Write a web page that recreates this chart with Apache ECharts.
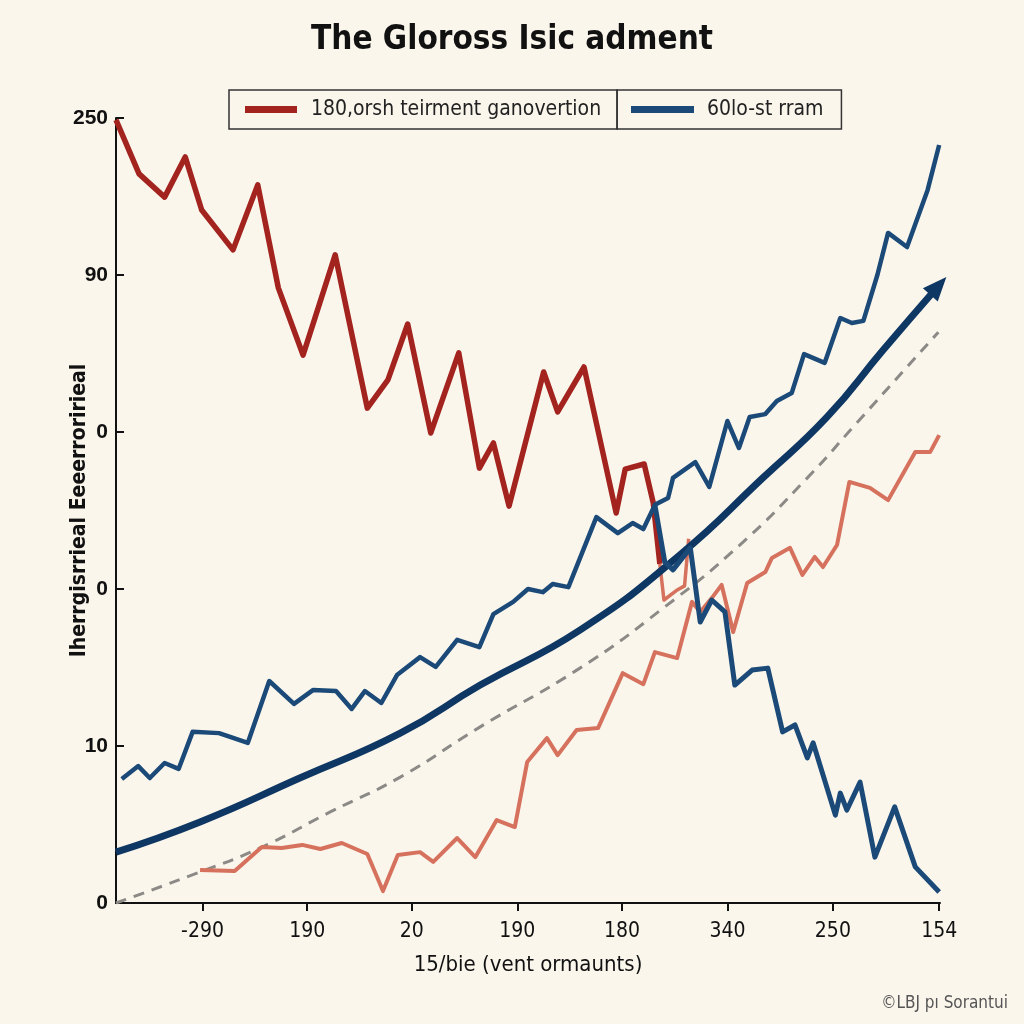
<!DOCTYPE html>
<html>
<head>
<meta charset="utf-8">
<script src="https://cdn.jsdelivr.net/npm/echarts@6/dist/echarts.min.js"></script>
<style>
html,body{margin:0;padding:0;background:#faf6ec;}
#chart{width:1024px;height:1024px;}
</style>
</head>
<body>
<div id="chart"></div>
<script>
// ---- text ----
const titleText = 'The Gloross Isic adment';
const redName = '180,orsh teirment ganovertion';
const blueName = '60lo-st rram';
const yAxisName = 'Iherrgisrrieal Eeeerroririeal';
const xAxisName = '15/bie (vent ormaunts)';
const creditText = '\u00a9LBJ p\u0131 Sorantui';

// ---- ticks ----
const yTickLabels = ['0', '10', '0', '0', '90', '250'];
const xTickPos = [10.5, 23.2, 35.9, 48.7, 61.4, 74.2, 87.0, 99.9];
const xTickLabels = ['-290', '190', '20', '190', '180', '340', '250', '154'];

// ---- series values [x, y] ----
const redLine = [[0,249.4],[2.8,232.2],[5.9,224.8],[8.4,237.6],[10.4,220.7],[14.2,208.0],[17.2,228.7],[19.7,195.9],[22.7,174.5],[26.6,206.4],[30.5,157.6],[33.0,166.6],[35.4,184.4],[38.2,149.7],[41.6,175.2],[44.1,138.5],[45.8,146.5],[47.7,126.4],[51.9,169.1],[53.6,156.4],[56.8,170.7],[60.7,124.2],[61.8,138.2],[64.1,139.8],[65.2,127.4],[66.0,108.0]];

const redTail = [[66.0,108.0],[66.5,96.5],[68.0,99.5],[69.0,101.0],[69.5,116.0]];

const blueRise = [[0.7,39.5],[2.7,43.6],[4.1,39.8],[5.9,44.6],[7.6,42.7],[9.3,54.5],[12.5,54.1],[16.0,51.0],[18.6,70.7],[21.6,63.4],[23.9,67.8],[26.7,67.5],[28.6,61.8],[30.2,67.5],[32.2,63.7],[34.1,72.6],[36.9,78.3],[38.8,75.2],[41.4,83.8],[44.1,81.5],[45.8,92.0],[48.2,95.9],[50.0,100.0],[51.8,99.0],[53.0,101.6],[54.9,100.6],[58.3,122.9],[60.9,117.8],[62.7,121.0],[64.0,119.1],[65.4,126.8],[67.0,129.0],[67.6,135.4],[70.3,140.4],[72.0,132.5],[74.2,153.5],[75.6,144.9],[76.9,154.8],[78.8,155.7],[80.2,159.9],[82.0,162.4],[83.5,174.8],[86.0,172.0],[87.9,186.3],[89.3,184.7],[90.7,185.4],[92.4,200.0],[93.7,213.4],[96.0,208.9],[98.5,227.1],[99.9,241.4]];

const blueFall = [[65.4,126.8],[66.6,108.6],[67.6,106.1],[69.7,113.1],[70.9,89.5],[72.3,96.5],[73.9,92.7],[75.1,69.4],[77.2,74.2],[79.1,74.8],[80.9,54.5],[82.4,56.7],[83.9,46.2],[84.6,51.0],[87.3,28.0],[87.9,35.0],[88.7,29.6],[90.3,38.5],[92.1,14.6],[94.5,30.6],[97.0,11.5],[99.9,3.5]];

const salmonLine = [[10.2,10.5],[14.4,10.2],[17.7,17.8],[20.1,17.5],[22.6,18.5],[24.8,17.2],[27.4,19.1],[30.5,15.6],[32.4,3.8],[34.2,15.3],[36.9,16.2],[38.5,13.1],[41.4,20.7],[43.6,14.6],[46.2,26.4],[48.4,24.2],[49.9,44.9],[52.3,52.5],[53.6,47.1],[55.9,55.1],[58.5,55.7],[61.5,73.2],[64.0,69.7],[65.4,79.9],[68.1,78.0],[69.9,95.9],[70.9,92.7],[72.3,97.1],[73.5,101.3],[74.9,86.3],[76.6,101.9],[78.8,105.4],[79.6,109.9],[81.8,113.1],[83.3,104.5],[84.8,110.2],[85.8,107.0],[87.5,114.0],[89.0,134.1],[91.5,132.2],[93.7,128.3],[97.0,143.6],[98.8,143.6],[99.9,149.0]];

const trendCurve = [[0,16.2],[10.2,25.8],[22.3,39.8],[34.5,54.1],[44.2,69.4],[56.3,86.9],[68.4,110.8],[78.5,135.4],[86.3,154.8],[93.1,176.1],[99.8,196.5]];

const dashedCurve = [[0,0],[10.2,9.9],[17.7,17.8],[26.0,29.0],[34.5,40.1],[44.2,56.1],[56.3,74.8],[66.4,93.9],[75.7,114.0],[83.9,135.4],[89.9,152.9],[99.8,181.8]];

// ---- styling ----
const narrow = "'Liberation Sans Narrow','DejaVu Sans Condensed','Roboto Condensed',sans-serif";
const RED = '#a3231f';
const SALMON = '#d6715d';
const BLUE = '#1c4a78';
const NAVY = '#0f3763';
const GRAY = '#8c8a86';

const trendData = trendCurve.map((p, i) => i === trendCurve.length - 1
  ? { value: p, symbol: 'triangle', symbolSize: [20, 24], symbolRotate: -42, itemStyle: { color: NAVY } }
  : p);

const chart = echarts.init(document.getElementById('chart'), null, { renderer: 'canvas' });
chart.setOption({
  backgroundColor: '#faf6ec',
  animation: false,
  title: [
    { text: titleText, left: 'center', top: 19,
      textStyle: { fontFamily: narrow, fontWeight: 'bold', fontSize: 33, color: '#111' } },
    { text: creditText, right: 11, bottom: 7,
      textStyle: { fontFamily: narrow, fontWeight: 'normal', fontSize: 17, color: '#555' } }
  ],
  legend: [
    { data: [redName], left: 229, top: 90, orient: 'horizontal',
      padding: [9, 16, 9, 16], itemWidth: 52, itemHeight: 7, icon: 'rect',
      borderColor: '#333', borderWidth: 1.5,
      textStyle: { fontFamily: narrow, fontSize: 21, color: '#222', padding: [0, 0, 0, 9] } },
    { data: [blueName], left: 617, top: 90, orient: 'horizontal',
      padding: [9, 18, 9, 14], itemWidth: 63, itemHeight: 7, icon: 'rect',
      borderColor: '#333', borderWidth: 1.5,
      textStyle: { fontFamily: narrow, fontSize: 21, color: '#222', padding: [0, 0, 0, 8] } }
  ],
  grid: { left: 116, right: 84, top: 118, bottom: 121, containLabel: false },
  xAxis: {
    type: 'value', min: 0, max: 100,
    name: xAxisName, nameLocation: 'middle', nameGap: 51, nameMoveOverlap: false,
    nameTextStyle: { fontFamily: narrow, fontSize: 22, color: '#111' },
    axisLine: { show: true, lineStyle: { color: '#111', width: 2 } },
    axisTick: { show: true, customValues: xTickPos, length: 8, inside: false, lineStyle: { color: '#111', width: 2 } },
    axisLabel: { customValues: xTickPos, margin: 18, fontFamily: narrow, fontSize: 21, color: '#111',
      formatter: (v) => { const i = xTickPos.indexOf(v); return i >= 0 ? xTickLabels[i] : ''; } },
    splitLine: { show: false }
  },
  yAxis: {
    type: 'value', min: 0, max: 250, interval: 50,
    name: yAxisName, nameLocation: 'middle', nameGap: 26, nameMoveOverlap: false,
    nameTextStyle: { fontFamily: narrow, fontWeight: 'bold', fontSize: 21, color: '#111' },
    axisLine: { show: true, lineStyle: { color: '#111', width: 2 } },
    axisTick: { show: true, inside: true, length: 8, lineStyle: { color: '#111', width: 2 } },
    axisLabel: { margin: 8, fontFamily: "'Liberation Sans','Arial',sans-serif", fontWeight: 'bold', fontSize: 21, color: '#111',
      formatter: (v) => yTickLabels[Math.round(v / 50)] },
    splitLine: { show: false }
  },
  series: [
    { type: 'line', name: 'dashed', data: dashedCurve, smooth: true, symbol: 'none',
      lineStyle: { color: GRAY, width: 3, type: [11, 8] }, z: 2 },
    { type: 'line', name: 'salmon', data: salmonLine, symbol: 'none',
      lineStyle: { color: SALMON, width: 4, join: 'round' }, z: 3 },
    { type: 'line', name: 'redTail', data: redTail, symbol: 'none',
      lineStyle: { color: SALMON, width: 3.5, join: 'round' }, z: 3 },
    { type: 'line', name: redName, data: redLine, symbol: 'none', color: RED,
      lineStyle: { color: RED, width: 5.5, join: 'round' }, z: 4 },
    { type: 'line', name: 'trend', data: trendData, smooth: true, symbol: 'none', showSymbol: true,
      clip: false, lineStyle: { color: NAVY, width: 7 }, itemStyle: { color: NAVY }, z: 5 },
    { type: 'line', name: blueName, data: blueRise, symbol: 'none', color: BLUE,
      lineStyle: { color: BLUE, width: 4.5, join: 'round' }, z: 6 },
    { type: 'line', name: 'fall', data: blueFall, symbol: 'none',
      lineStyle: { color: BLUE, width: 5, join: 'round' }, z: 6 }
  ]
});
</script>
</body>
</html>
